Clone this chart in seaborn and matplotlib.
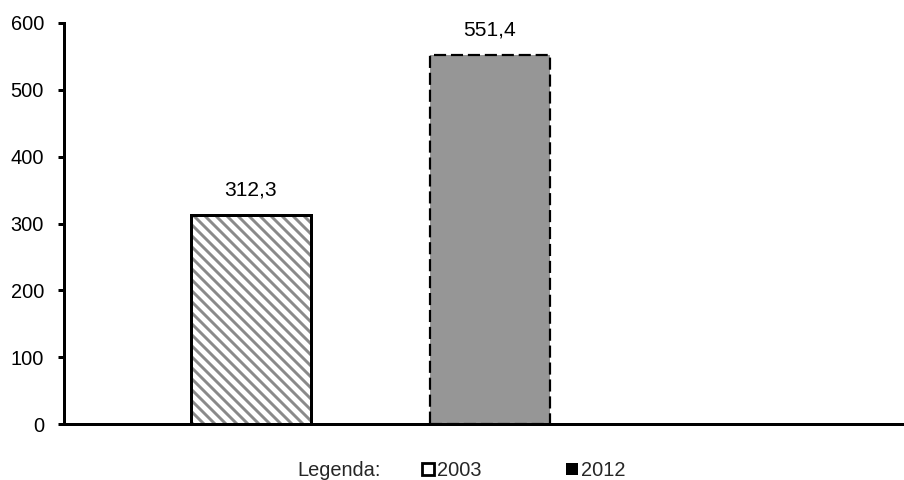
import matplotlib
matplotlib.use("Agg")
import matplotlib.pyplot as plt
import seaborn as sns
import pandas as pd
from matplotlib.patches import Rectangle
from matplotlib.lines import Line2D

years = ["2003", "2012"]
values = [312.3, 551.4]
yticks = [0, 100, 200, 300, 400, 500, 600]

DPI = 132
BS = chr(92)
sns.set_theme(style="white")
plt.rcParams['font.family'] = ['Liberation Sans', 'DejaVu Sans']
plt.rcParams['hatch.linewidth'] = 1.6
plt.rcParams['hatch.color'] = '#8a8a8a'

px = 72.0 / DPI
fs = 20 * px

fig = plt.figure(figsize=(904 / DPI, 480 / DPI), dpi=DPI)
ax = fig.add_axes([64 / 904, 56 / 480, 839 / 904, 401 / 480])

df = pd.DataFrame({"year": years, "value": values})
sns.barplot(data=df, x="year", y="value", ax=ax, width=0.502,
            color="#969696", saturation=1, errorbar=None)

bars = list(ax.patches)
# 2003: gray diagonal hatch on white, solid black outline
b0 = bars[0]
b0.set_facecolor("white")
b0.set_edgecolor("#8a8a8a")
b0.set_hatch(BS * 4)
b0.set_linewidth(0)
ax.add_patch(Rectangle(b0.get_xy(), b0.get_width(), b0.get_height(),
                       fill=False, edgecolor="black", linewidth=3 * px, zorder=5))
# 2012: solid gray with dashed black outline
b1 = bars[1]
b1.set_facecolor("#969696")
b1.set_edgecolor("black")
b1.set_linewidth(2.2 * px)
b1.set_linestyle((0, (5.5, 2.2)))

labels = [f"{v:.1f}".replace(".", ",") for v in values]
for b, lab in zip(bars, labels):
    ax.annotate(lab, (b.get_x() + b.get_width() / 2, b.get_height()),
                xytext=(0, 16 * px), textcoords="offset points",
                ha="center", va="bottom", fontsize=fs * 1.05, color="black")

ax.set_xlim(-0.782, 2.728)
ax.set_ylim(0, 600)
ax.set_yticks(yticks)
ax.set_yticklabels([str(t) for t in yticks], fontsize=fs)
ax.set_xticks([])
ax.set_xlabel("")
ax.set_ylabel("")
for s in ["top", "right"]:
    ax.spines[s].set_visible(False)
for s in ["left", "bottom"]:
    ax.spines[s].set_linewidth(3 * px)
    ax.spines[s].set_color("black")
ax.tick_params(axis="y", direction="out", length=6 * px, width=3 * px,
               pad=14 * px, left=True, colors="black")

fig.text(297 / 904, 1 - 470 / 480, "Legenda:", fontsize=fs, va="center", ha="left")
handles = [
    Line2D([], [], linestyle="none", marker="s", markersize=12 * px,
           markerfacecolor="white", markeredgecolor="black", markeredgewidth=2.8 * px),
    Line2D([], [], linestyle="none", marker="s", markersize=12 * px,
           markerfacecolor="black", markeredgecolor="black", markeredgewidth=0),
]
leg = fig.legend(handles, years, loc="center left", bbox_to_anchor=(421 / 904, 1 - 470 / 480),
                 ncol=2, frameon=False, fontsize=fs, handlelength=0.65, handletextpad=0.15,
                 columnspacing=4.2, borderpad=0, borderaxespad=0)

fig.savefig("out.png", dpi=DPI)
